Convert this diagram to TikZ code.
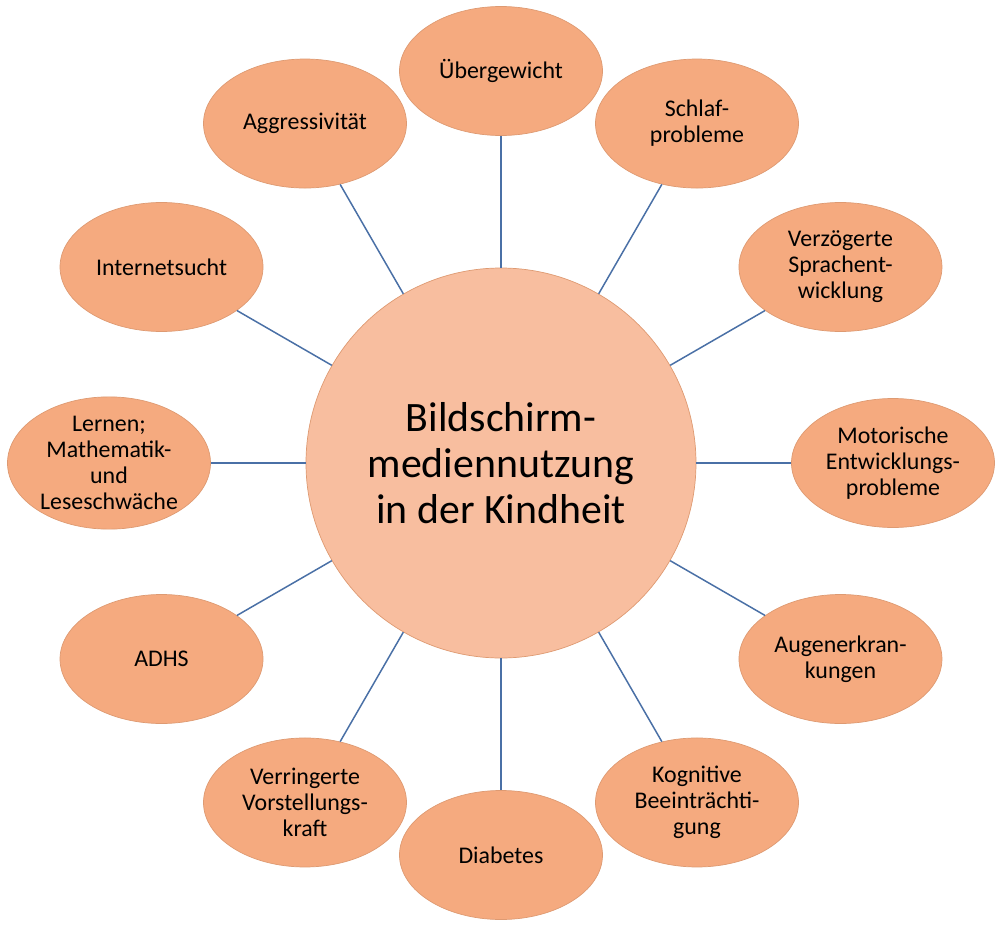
\documentclass[tikz,border=0pt]{standalone}
\usepackage{fontspec}
\setmainfont{Carlito}
\definecolor{hubfill}{HTML}{F8BE9F}
\definecolor{leaffill}{HTML}{F5AA7F}
\definecolor{leafdraw}{HTML}{DE9A72}
\definecolor{linkblue}{HTML}{4A70A6}
\tikzset{
  hub/.style={circle,draw=leafdraw,fill=hubfill,line width=0.4pt,minimum size=7.8cm,inner sep=0pt,align=center,font=\fontsize{23.8}{26}\selectfont},
  leaf/.style={ellipse,draw=leafdraw,fill=leaffill,line width=0.4pt,minimum width=4.06cm,minimum height=2.58cm,inner sep=0pt,align=center,font=\fontsize{13.6}{14.8}\selectfont},
  link/.style={draw=linkblue,line width=0.85pt}
}
\usetikzlibrary{shapes.geometric}
\begin{document}
\begin{tikzpicture}
    \useasboundingbox (-10.02,-9.26) rectangle (9.98,9.26);
    \node[hub] (mitte) at (0,0) {Bildschirm-\\mediennutzung\\in der Kindheit};
    \foreach \a/\txt [count=\i] in {90/{Übergewicht},
                                    60/{Schlaf-\\probleme},
                                    30/{Verzögerte\\Sprachent-\\wicklung},
                                    0/{Motorische\\Entwicklungs-\\probleme},
                                    -30/{Augenerkran-\\kungen},
                                    -60/{Kognitive\\Beeinträchti-\\gung},
                                    -90/{Diabetes},
                                    -120/{Verringerte\\Vorstellungs-\\kraft},
                                    -150/{ADHS},
                                    180/{Lernen;\\Mathematik-\\und\\Leseschwäche},
                                    150/{Internetsucht},
                                    120/{Aggressivität}}
    {
    \node[leaf] (folge\i) at (\a:7.84) {\txt};
    \draw[link] (mitte) -- (folge\i);
    }
  \end{tikzpicture}
\end{document}
